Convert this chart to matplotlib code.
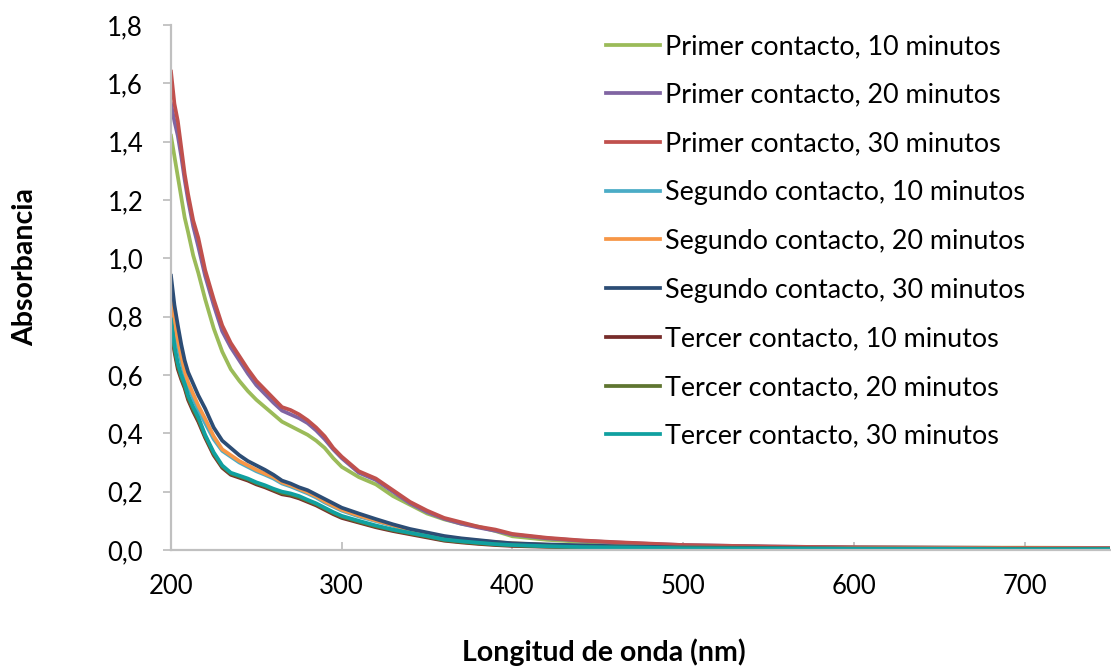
import numpy as np
import matplotlib
matplotlib.use('Agg')
import matplotlib.pyplot as plt

plt.rcParams['font.family'] = ['Lato', 'DejaVu Sans']

# Wavelength grid (nm)
wavelength = [200, 202, 204, 206, 208, 210, 213, 216, 220, 225, 230, 235, 240, 245, 250,
              255, 260, 265, 270, 275, 280, 285, 290, 295, 300, 310, 320, 330, 340, 350,
              360, 370, 380, 390, 400, 420, 440, 460, 480, 500, 550, 600, 650, 700, 750]

# Absorbance of each extract
primer_10 = [1.42, 1.35, 1.28, 1.21, 1.14, 1.09, 1.01, 0.95, 0.86, 0.76, 0.68, 0.62, 0.58, 0.545, 0.515,
             0.49, 0.465, 0.44, 0.425, 0.41, 0.395, 0.375, 0.35, 0.315, 0.285, 0.25, 0.225, 0.185, 0.155, 0.125,
             0.105, 0.09, 0.08, 0.065, 0.047, 0.035, 0.028, 0.023, 0.019, 0.015, 0.011, 0.009, 0.008, 0.008, 0.007]
primer_20 = [1.53, 1.47, 1.42, 1.35, 1.27, 1.2, 1.11, 1.04, 0.94, 0.84, 0.75, 0.695, 0.65, 0.605, 0.565,
             0.535, 0.505, 0.478, 0.465, 0.452, 0.435, 0.41, 0.38, 0.345, 0.315, 0.265, 0.24, 0.2, 0.16, 0.13,
             0.107, 0.09, 0.077, 0.066, 0.053, 0.04, 0.032, 0.026, 0.021, 0.017, 0.012, 0.009, 0.008, 0.007, 0.006]
primer_30 = [1.64, 1.53, 1.47, 1.38, 1.29, 1.22, 1.13, 1.07, 0.96, 0.86, 0.77, 0.71, 0.665, 0.62, 0.58,
             0.55, 0.52, 0.49, 0.48, 0.465, 0.445, 0.42, 0.39, 0.35, 0.32, 0.27, 0.245, 0.205, 0.165, 0.135,
             0.11, 0.095, 0.08, 0.07, 0.055, 0.042, 0.033, 0.027, 0.022, 0.017, 0.012, 0.009, 0.008, 0.007, 0.006]
segundo_10 = [0.84, 0.76, 0.70, 0.645, 0.60, 0.56, 0.52, 0.48, 0.435, 0.38, 0.34, 0.32, 0.30, 0.285, 0.27,
              0.258, 0.245, 0.228, 0.218, 0.206, 0.194, 0.18, 0.163, 0.149, 0.135, 0.115, 0.099, 0.083, 0.066, 0.054,
              0.044, 0.037, 0.031, 0.026, 0.022, 0.017, 0.014, 0.012, 0.010, 0.008, 0.006, 0.005, 0.005, 0.004, 0.004]
segundo_20 = [0.86, 0.78, 0.72, 0.665, 0.615, 0.575, 0.535, 0.495, 0.45, 0.39, 0.345, 0.325, 0.305, 0.29, 0.275,
              0.262, 0.25, 0.232, 0.222, 0.21, 0.198, 0.184, 0.167, 0.152, 0.138, 0.118, 0.101, 0.085, 0.068, 0.055,
              0.045, 0.038, 0.032, 0.027, 0.023, 0.018, 0.015, 0.013, 0.011, 0.009, 0.007, 0.006, 0.005, 0.005, 0.004]
segundo_30 = [0.94, 0.84, 0.77, 0.705, 0.65, 0.61, 0.57, 0.53, 0.485, 0.42, 0.375, 0.35, 0.325, 0.305, 0.29,
              0.275, 0.258, 0.238, 0.228, 0.215, 0.205, 0.19, 0.175, 0.16, 0.145, 0.125, 0.106, 0.088, 0.072, 0.06,
              0.048, 0.04, 0.034, 0.028, 0.023, 0.019, 0.016, 0.013, 0.011, 0.009, 0.007, 0.005, 0.004, 0.004, 0.003]
tercer_10 = [0.76, 0.68, 0.62, 0.585, 0.555, 0.515, 0.475, 0.44, 0.385, 0.325, 0.282, 0.258, 0.248, 0.238, 0.225,
             0.215, 0.203, 0.191, 0.186, 0.177, 0.165, 0.153, 0.138, 0.123, 0.11, 0.094, 0.078, 0.065, 0.054, 0.043,
             0.032, 0.026, 0.021, 0.017, 0.014, 0.011, 0.008, 0.007, 0.006, 0.005, 0.004, 0.003, 0.003, 0.002, 0.002]
tercer_20 = [0.78, 0.69, 0.63, 0.592, 0.562, 0.522, 0.482, 0.447, 0.39, 0.33, 0.286, 0.262, 0.252, 0.242, 0.229,
             0.219, 0.207, 0.195, 0.19, 0.181, 0.169, 0.157, 0.142, 0.127, 0.114, 0.097, 0.081, 0.068, 0.057, 0.046,
             0.034, 0.028, 0.023, 0.019, 0.016, 0.012, 0.009, 0.008, 0.007, 0.006, 0.005, 0.004, 0.004, 0.003, 0.003]
tercer_30 = [0.79, 0.70, 0.64, 0.60, 0.57, 0.53, 0.49, 0.455, 0.395, 0.335, 0.29, 0.265, 0.255, 0.245, 0.232,
             0.222, 0.21, 0.2, 0.194, 0.185, 0.172, 0.16, 0.145, 0.13, 0.117, 0.1, 0.084, 0.07, 0.059, 0.048,
             0.036, 0.03, 0.025, 0.02, 0.017, 0.013, 0.01, 0.009, 0.008, 0.006, 0.005, 0.004, 0.004, 0.003, 0.003]

series = [primer_10, primer_20, primer_30, segundo_10, segundo_20, segundo_30,
          tercer_10, tercer_20, tercer_30]
labels = ['Primer contacto, 10 minutos', 'Primer contacto, 20 minutos', 'Primer contacto, 30 minutos',
          'Segundo contacto, 10 minutos', 'Segundo contacto, 20 minutos', 'Segundo contacto, 30 minutos',
          'Tercer contacto, 10 minutos', 'Tercer contacto, 20 minutos', 'Tercer contacto, 30 minutos']
colors = ['#9BBB59', '#8064A2', '#C0504D', '#4BACC6', '#F79646', '#2C4D75',
          '#772C2A', '#5F7530', '#10A0A0']

fig = plt.figure(figsize=(11.11, 6.69), dpi=100)
ax = fig.add_axes([171 / 1111, 1 - 550 / 669, (1110 - 171) / 1111, (550 - 25) / 669])

for y, lab, c in zip(series, labels, colors):
    ax.plot(wavelength, y, color=c, lw=2.7, label=lab, solid_joinstyle='round')

ax.set_xlim(200, 750)
ax.set_ylim(0, 1.8)
ax.set_xticks([200, 300, 400, 500, 600, 700])
yt = np.arange(0, 1.81, 0.2)
ax.set_yticks(yt)
ax.set_yticklabels([('%.1f' % v).replace('.', ',') for v in yt])

# gray left/bottom axis lines only
for side in ['top', 'right']:
    ax.spines[side].set_visible(False)
for side in ['left', 'bottom']:
    ax.spines[side].set_color('#C0C0C0')
    ax.spines[side].set_linewidth(1.6)
ax.tick_params(axis='y', direction='out', length=6, width=1.3, color='#C0C0C0',
               labelsize=18.5, pad=14, labelcolor='black')
ax.tick_params(axis='x', direction='in', length=6, width=1.3, color='#C0C0C0',
               labelsize=18.5, pad=17, labelcolor='black')

fig.text(25 / 1111, 1 - 267 / 669, 'Absorbancia', rotation=90, fontsize=20.5,
         fontweight='bold', ha='center', va='center')
fig.text(604 / 1111, 1 - 652 / 669, 'Longitud de onda (nm)', fontsize=20.5,
         fontweight='bold', ha='center', va='center')

ax.legend(loc='upper left', bbox_to_anchor=(606 / 1111, 1 - 34 / 669),
          bbox_transform=fig.transFigure, frameon=False, fontsize=19.4,
          borderpad=0, borderaxespad=0, handlelength=2.0, handletextpad=0.19,
          labelspacing=0.88)

plt.savefig('out.png', dpi=100)
